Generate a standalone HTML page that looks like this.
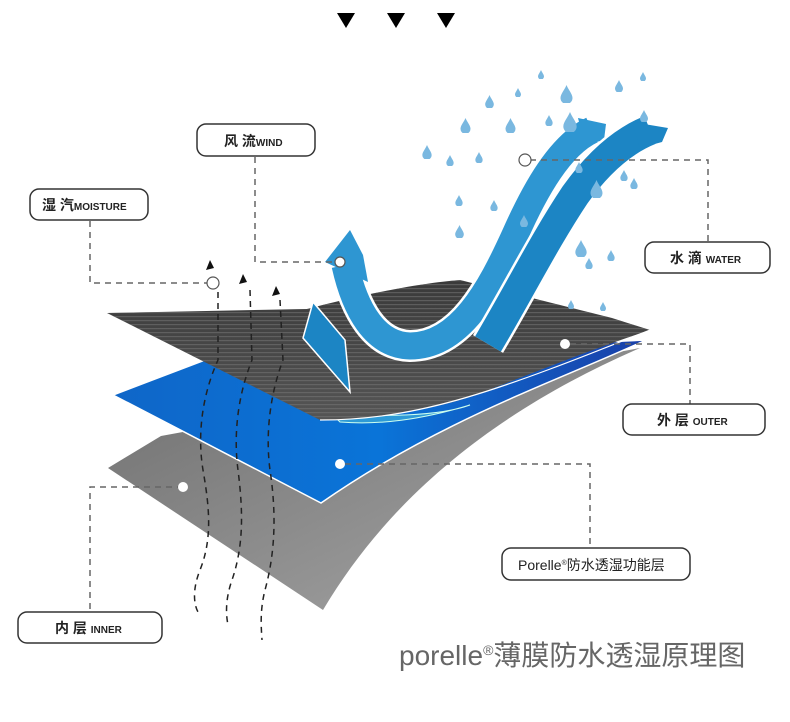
<!DOCTYPE html>
<html><head><meta charset="utf-8"><style>
html,body{margin:0;padding:0;background:#fff;}
svg{display:block}
</style></head><body>
<svg width="790" height="722" viewBox="0 0 790 722" xmlns="http://www.w3.org/2000/svg">
<defs>
<linearGradient id="gray" x1="0" y1="0" x2="1" y2="1">
<stop offset="0" stop-color="#6e6e6e"/><stop offset="1" stop-color="#a8a8a8"/></linearGradient>
<linearGradient id="blue" x1="0" y1="0" x2="1" y2="0">
<stop offset="0" stop-color="#0f66c8"/><stop offset="0.5" stop-color="#0a74d8"/><stop offset="1" stop-color="#1a3fa8"/></linearGradient>
<linearGradient id="blk" x1="0" y1="0" x2="0" y2="1">
<stop offset="0" stop-color="#3a3a3a"/><stop offset="1" stop-color="#555"/></linearGradient>
<pattern id="tex" width="6" height="4" patternUnits="userSpaceOnUse">
<rect width="6" height="4" fill="none"/><rect y="0" width="6" height="1.2" fill="#777" opacity="0.55"/></pattern>
<symbol id="drop" viewBox="-6 -10 12 18"><path d="M0,-10 C2,-5 6,-1 6,3 A6,6 0 0 1 -6,3 C-6,-1 -2,-5 0,-10Z"/></symbol>
</defs>

<polygon points="337,13 355,13 346,28" fill="#000"/>
<polygon points="387,13 405,13 396,28" fill="#000"/>
<polygon points="437,13 455,13 446,28" fill="#000"/>

<path d="M108,468 L161,436 L640,348 C520,400 400,480 323,610 Z" fill="url(#gray)"/>
<path d="M113,395 L205,360 L646,340 C560,380 440,420 321,503 Z" fill="url(#blue)" stroke="#fff" stroke-width="1.5"/>
<path d="M330,412 C380,418 440,416 470,405 C420,420 380,425 340,422Z" fill="#2e9ad6" stroke="#cfe" stroke-width="1"/>
<path d="M107,313 L307,309 C360,295 420,283 460,280 L612,318 L650,330 C560,360 480,395 460,400 C420,412 360,420 320,420 Z" fill="url(#blk)"/>
<path d="M107,313 L307,309 C360,295 420,283 460,280 L612,318 L650,330 C560,360 480,395 460,400 C420,412 360,420 320,420 Z" fill="url(#tex)"/>
<path d="M320,420 C420,420 500,390 650,330" fill="none" stroke="#fff" stroke-width="1.2"/>

<g fill="none" stroke="#222" stroke-width="1.5" stroke-dasharray="6,5">
<path d="M218,292 L218,360 C200,400 198,440 203,470 C210,510 212,540 200,570 C192,590 194,605 198,612"/>
<path d="M250,290 L252,360 C236,400 234,440 238,470 C243,510 244,545 232,580 C225,600 226,615 228,625"/>
<path d="M280,300 L283,360 C268,400 266,440 270,470 C276,510 276,550 265,590 C260,610 261,625 262,640"/>
</g>
<g fill="#111">
<polygon points="210,260 206,270 214,268"/>
<polygon points="243,274 239,284 247,282"/>
<polygon points="276,286 272,296 280,294"/>
</g>

<path d="M345,265 C355,310 375,345 410,346 C460,346 490,290 515,235 C535,190 560,145 592,130" fill="none" stroke="#fff" stroke-width="32"/>
<path d="M345,265 C355,310 375,345 410,346 C460,346 490,290 515,235 C535,190 560,145 592,130" fill="none" stroke="#2e96d2" stroke-width="27"/>
<polygon points="578,118 606,124 604,140 585,145" fill="#2e96d2"/>
<polygon points="350,230 325,262 368,282 363,255" fill="#2e96d2"/>
<path d="M488,344 C520,290 545,240 575,195 C600,160 625,140 650,130" fill="none" stroke="#fff" stroke-width="35"/>
<path d="M488,344 C520,290 545,240 575,195 C600,160 625,140 650,130" fill="none" stroke="#1c85c4" stroke-width="30"/>
<polygon points="632,122 668,128 662,142 640,148" fill="#1c85c4"/>
<polygon points="313,302 303,338 350,392 345,340" fill="#1c85c4" stroke="#fff" stroke-width="1.5"/>

<g fill="#7ab8e0">
<use href="#drop" x="485" y="95" width="9" height="13"/>
<use href="#drop" x="515" y="88" width="6" height="9"/>
<use href="#drop" x="538" y="70" width="6" height="9"/>
<use href="#drop" x="560" y="85" width="13" height="18"/>
<use href="#drop" x="615" y="80" width="8" height="12"/>
<use href="#drop" x="640" y="72" width="6" height="9"/>
<use href="#drop" x="460" y="118" width="11" height="15"/>
<use href="#drop" x="505" y="118" width="11" height="15"/>
<use href="#drop" x="545" y="115" width="8" height="11"/>
<use href="#drop" x="563" y="112" width="14" height="20"/>
<use href="#drop" x="640" y="110" width="8" height="12"/>
<use href="#drop" x="422" y="145" width="10" height="14"/>
<use href="#drop" x="446" y="155" width="8" height="11"/>
<use href="#drop" x="475" y="152" width="8" height="11"/>
<use href="#drop" x="455" y="195" width="8" height="11"/>
<use href="#drop" x="490" y="200" width="8" height="11"/>
<use href="#drop" x="455" y="225" width="9" height="13"/>
<use href="#drop" x="575" y="162" width="8" height="11"/>
<use href="#drop" x="590" y="180" width="13" height="18"/>
<use href="#drop" x="620" y="170" width="8" height="11"/>
<use href="#drop" x="630" y="178" width="8" height="11"/>
<use href="#drop" x="520" y="215" width="8" height="12"/>
<use href="#drop" x="575" y="240" width="12" height="17"/>
<use href="#drop" x="585" y="258" width="8" height="11"/>
<use href="#drop" x="607" y="250" width="8" height="11"/>
<use href="#drop" x="568" y="300" width="6" height="9"/>
<use href="#drop" x="600" y="302" width="6" height="9"/>
</g>

<g fill="none" stroke="#666" stroke-width="1.5" stroke-dasharray="6,5">
<path d="M255,157 L255,262 L340,262"/>
<path d="M90,221 L90,283 L207,283"/>
<path d="M530,160 L708,160 L708,242"/>
<path d="M570,344 L690,344 L690,404"/>
<path d="M345,464 L590,464 L590,548"/>
<path d="M183,487 L90,487 L90,612"/>
</g>
<g stroke="#555" stroke-width="1.2">
<circle cx="340" cy="262" r="5" fill="#fff"/>
<circle cx="213" cy="283" r="6" fill="#fff"/>
<circle cx="525" cy="160" r="6" fill="#fff"/>
<circle cx="565" cy="344" r="5" fill="#fff" stroke="none"/>
<circle cx="340" cy="464" r="5" fill="#fff" stroke="none"/>
<circle cx="183" cy="487" r="5" fill="#fff" stroke="none"/>
</g>

<g fill="#fff" stroke="#333" stroke-width="1.5">
<rect x="197" y="124" width="118" height="32" rx="9"/>
<rect x="30" y="189" width="118" height="31" rx="9"/>
<rect x="645" y="242" width="125" height="31" rx="9"/>
<rect x="623" y="404" width="142" height="31" rx="9"/>
<rect x="502" y="548" width="188" height="32" rx="9"/>
<rect x="18" y="612" width="144" height="31" rx="9"/>
</g>
<g font-family="'Liberation Sans','Noto Sans CJK SC',sans-serif" fill="#222" font-weight="bold">
<text x="224" y="146" font-size="14">风 流<tspan font-size="10">WIND</tspan></text>
<text x="42" y="210" font-size="14">湿 汽<tspan font-size="10">MOISTURE</tspan></text>
<text x="670" y="263" font-size="14">水 滴 <tspan font-size="10">WATER</tspan></text>
<text x="657" y="425" font-size="14">外 层 <tspan font-size="10">OUTER</tspan></text>
<text x="518" y="570" font-size="14" font-weight="normal">Porelle<tspan font-size="7" dy="-5">®</tspan><tspan dy="5">防水透湿功能层</tspan></text>
<text x="55" y="633" font-size="14">内 层 <tspan font-size="10">INNER</tspan></text>
</g>
<text x="399" y="665" font-family="'Liberation Sans','Noto Sans CJK SC',sans-serif" font-size="28" fill="#666">porelle<tspan font-size="14" dy="-10">®</tspan><tspan dy="10">薄膜防水透湿原理图</tspan></text>
</svg>
</body></html>
